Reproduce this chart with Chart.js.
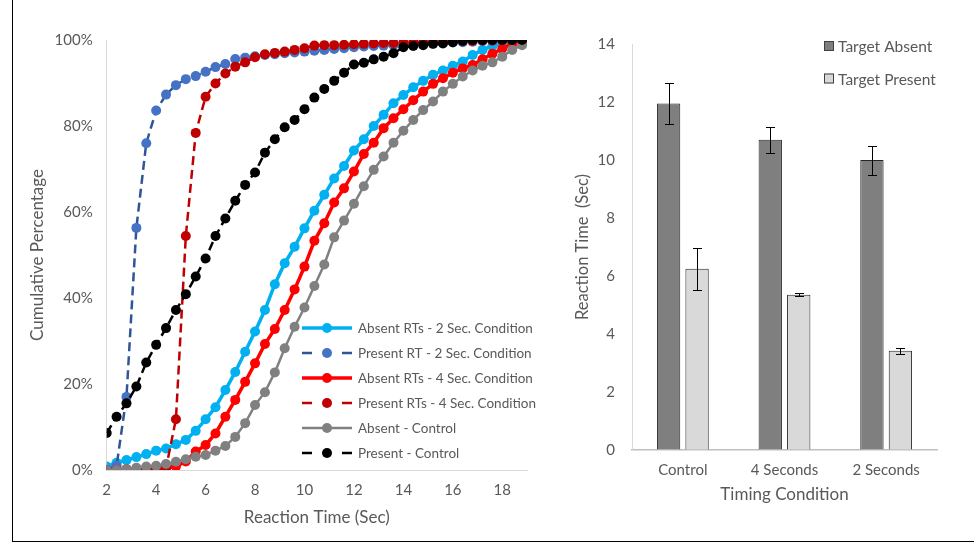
<!DOCTYPE html>
<html>
<head>
<meta charset="utf-8">
<script src="https://cdn.jsdelivr.net/npm/chart.js@4/dist/chart.umd.min.js"></script>
<style>
html, body { margin: 0; padding: 0; background: #fff; }
#page { position: relative; width: 974px; height: 549px; overflow: hidden; }
#frame { position: absolute; left: 12px; top: -2px; width: 970px; height: 543px; border-left: 1px solid #000; border-bottom: 1px solid #000; }
#left { position: absolute; left: 13px; top: 0; }
#right { position: absolute; left: 560px; top: 0; }
</style>
</head>
<body>
<div id="page">
  <div id="frame"></div>
  <canvas id="left" width="544" height="540"></canvas>
  <canvas id="right" width="414" height="540"></canvas>
</div>
<script>
// ---- left chart: cumulative RT distributions ----
const reactionTimes = [2, 2.4, 2.8, 3.2, 3.6, 4, 4.4, 4.8, 5.2, 5.6, 6, 6.4, 6.8, 7.2, 7.6, 8, 8.4, 8.8, 9.2, 9.6,
  10, 10.4, 10.8, 11.2, 11.6, 12, 12.4, 12.8, 13.2, 13.6, 14, 14.4, 14.8, 15.2, 15.6, 16, 16.4, 16.8, 17.2, 17.6, 18, 18.4, 18.8];

const absent2 = [0.8, 1.7, 2.3, 3.0, 3.7, 4.5, 5.0, 6.0, 7.0, 9.1, 11.8, 14.6, 18.6, 22.8, 27.5, 32.2, 37.2, 43.2, 48.1, 51.9,
  56.2, 60.3, 64.0, 67.8, 70.7, 74.3, 76.9, 80.0, 82.6, 85.3, 87.2, 89.0, 90.5, 91.9, 92.9, 94.0, 95.0, 96.5, 97.7, 98.6, 99.3, 99.8, 100];
const present2 = [0, 1, 17, 56.3, 76, 83.6, 87.3, 89.5, 90.9, 91.6, 92.6, 93.7, 94.4, 95.6, 95.9, 96.2, 96.5, 96.7, 96.9, 97.1,
  97.3, 97.5, 97.7, 97.9, 98.1, 98.3, 98.5, 98.6, 98.7, 98.8, 98.9, 99.0, 99.1, 99.2, 99.3, 99.4, 99.5, 99.6, 99.7, 99.8, 99.9, 100, 100];
const absent4 = [0, 0, 0.2, 0.3, 0.3, 0.4, 0.5, 0.8, 2.0, 4.3, 5.8, 8.5, 12.4, 16.3, 20.5, 24.8, 29.3, 32.8, 37.2, 42.0,
  47.3, 53.3, 57.4, 62.2, 65.5, 69.4, 73.5, 76.1, 79.5, 81.8, 83.9, 86.0, 88.0, 89.8, 91.1, 92.4, 93.4, 94.2, 95.5, 96.8, 98.0, 99.0, 99.8];
const present4 = [0, 0, 0, 0, 0, 0, 0.5, 11.8, 54.4, 78.4, 86.8, 89.9, 92.2, 93.8, 94.8, 96.0, 96.7, 97.0, 97.3, 97.7,
  98.1, 98.7, 98.8, 98.8, 98.9, 99.0, 99.1, 99.2, 99.3, 99.3, 99.4, 99.5, 99.5, 99.6, 99.7, 99.7, 99.8, 99.8, 99.9, 99.9, 100, 100, 100];
const absentControl = [0, 0, 0.2, 0.5, 0.8, 1.0, 1.4, 1.9, 2.5, 3.1, 3.5, 4.5, 5.6, 7.7, 10.9, 15.1, 18.1, 22.7, 28.3, 33.3,
  37.8, 42.8, 47.8, 54.1, 58.0, 61.9, 66.0, 69.8, 72.9, 76.1, 78.9, 81.4, 83.7, 85.7, 88.0, 89.8, 91.5, 92.9, 94.0, 94.8, 96.1, 97.7, 98.8];
const presentControl = [8.6, 12.4, 15.5, 19.4, 25.0, 29.1, 33.0, 37.2, 40.9, 45.0, 49.2, 54.4, 58.5, 62.6, 66.3, 69.2, 73.8, 76.9, 79.7, 81.4,
  83.9, 86.6, 88.6, 90.5, 92.4, 94.3, 94.7, 95.5, 96.1, 96.9, 98.3, 98.6, 98.8, 99.1, 99.2, 99.5, 99.8, 100, 100, 100, 100, 100, 100];

const xTicks = [2, 4, 6, 8, 10, 12, 14, 16, 18];
const yTicks = [0, 20, 40, 60, 80, 100];

// ---- right chart: mean RT by timing condition ----
const conditions = ['Control', '4 Seconds', '2 Seconds'];
const targetAbsent = [11.95, 10.7, 10.0];
const targetAbsentErr = [0.72, 0.45, 0.5];
const targetPresent = [6.25, 5.35, 3.42];
const targetPresentErr = [0.72, 0.05, 0.1];

const FONT = 'Lato';
const TEXT = '#595959';

function pts(ys) {
  return reactionTimes.map((x, i) => ({x: x, y: ys[i]}));
}

function lineSeries(label, ys, line, dot, width, dash, order) {
  return {
    label: label,
    data: pts(ys),
    borderColor: line,
    borderWidth: width,
    borderDash: dash,
    pointBackgroundColor: dot,
    pointBorderColor: dot,
    pointBorderWidth: 0,
    pointRadius: 5,
    tension: 0,
    fill: false,
    order: order
  };
}

const lineLegend = {
  id: 'lineLegend',
  afterDraw(chart, args, opts) {
    const ctx = chart.ctx;
    ctx.save();
    ctx.font = opts.size + 'px ' + FONT;
    ctx.textBaseline = 'middle';
    chart.data.datasets.forEach((ds, i) => {
      const y = opts.top + i * opts.rowHeight;
      const x0 = opts.left, x1 = opts.left + opts.lineLength, xm = (x0 + x1) / 2;
      ctx.strokeStyle = ds.borderColor;
      ctx.lineWidth = ds.borderWidth;
      ctx.beginPath();
      if (ds.borderDash.length) {
        ctx.moveTo(x0, y); ctx.lineTo(x0 + 10, y);
        ctx.moveTo(x1 - 10, y); ctx.lineTo(x1, y);
      } else {
        ctx.moveTo(x0, y); ctx.lineTo(x1, y);
      }
      ctx.stroke();
      ctx.fillStyle = ds.pointBackgroundColor;
      ctx.beginPath();
      ctx.arc(xm, y, ds.pointRadius, 0, Math.PI * 2);
      ctx.fill();
      ctx.fillStyle = TEXT;
      ctx.fillText(ds.label, x1 + 6, y + 1);
    });
    ctx.restore();
  }
};

new Chart(document.getElementById('left'), {
  type: 'line',
  data: {
    datasets: [
      lineSeries('Absent RTs - 2 Sec. Condition', absent2, '#00B0F0', '#00B0F0', 3.5, [], 6),
      lineSeries('Present RT - 2 Sec. Condition', present2, '#2F5597', '#4472C4', 2.5, [9, 5], 5),
      lineSeries('Absent RTs - 4 Sec. Condition', absent4, '#FF0000', '#FF0000', 3.5, [], 4),
      lineSeries('Present RTs - 4 Sec. Condition', present4, '#C00000', '#C00000', 2.5, [9, 5], 3),
      lineSeries('Absent - Control', absentControl, '#808080', '#808080', 2.5, [], 2),
      lineSeries('Present - Control', presentControl, '#000000', '#000000', 2.5, [9, 5], 1)
    ]
  },
  options: {
    responsive: false,
    animation: false,
    layout: {padding: {top: 40, right: 30, left: 0, bottom: 0}},
    plugins: {
      legend: {display: false},
      tooltip: {enabled: false},
      lineLegend: {left: 289, top: 328, rowHeight: 25, lineLength: 50, size: 13.5}
    },
    scales: {
      x: {
        type: 'linear',
        min: 2,
        max: 19,
        afterBuildTicks: (s) => { s.ticks = xTicks.map(v => ({value: v})); },
        afterFit: (s) => { s.height = 70; },
        grid: {drawOnChartArea: false, drawTicks: false},
        border: {color: '#D9D9D9', width: 1},
        ticks: {color: TEXT, font: {family: FONT, size: 15}, padding: 11, maxRotation: 0},
        title: {display: true, text: 'Reaction Time (Sec)', color: TEXT, font: {family: FONT, size: 17}, padding: {top: 0, bottom: 12}}
      },
      y: {
        min: 0,
        max: 100,
        afterBuildTicks: (s) => { s.ticks = yTicks.map(v => ({value: v})); },
        afterFit: (s) => { s.width = 93.7; },
        grid: {drawOnChartArea: false, drawTicks: false},
        border: {color: '#D9D9D9', width: 1},
        ticks: {color: TEXT, font: {family: FONT, size: 15}, padding: 14, callback: (v) => v + '%'},
        title: {display: true, text: 'Cumulative Percentage', color: TEXT, font: {family: FONT, size: 17}, padding: {top: 14, bottom: 0}}
      }
    }
  },
  plugins: [lineLegend]
});

const errorBars = {
  id: 'errorBars',
  afterDatasetsDraw(chart, args, opts) {
    const ctx = chart.ctx, ys = chart.scales.y;
    ctx.save();
    ctx.strokeStyle = '#000';
    ctx.lineWidth = 1;
    chart.data.datasets.forEach((ds, i) => {
      chart.getDatasetMeta(i).data.forEach((bar, j) => {
        const v = ds.data[j], e = ds.errors[j];
        const top = Math.round(ys.getPixelForValue(v + e)) + 0.5;
        const bot = Math.round(ys.getPixelForValue(v - e)) + 0.5;
        const x = Math.round(bar.x) + 0.5;
        ctx.beginPath();
        ctx.moveTo(x, top); ctx.lineTo(x, bot);
        ctx.moveTo(x - opts.cap, top); ctx.lineTo(x + opts.cap, top);
        ctx.moveTo(x - opts.cap, bot); ctx.lineTo(x + opts.cap, bot);
        ctx.stroke();
      });
    });
    ctx.restore();
  }
};

const boxLegend = {
  id: 'boxLegend',
  afterDraw(chart, args, opts) {
    const ctx = chart.ctx;
    ctx.save();
    ctx.font = opts.size + 'px ' + FONT;
    ctx.textBaseline = 'middle';
    chart.data.datasets.forEach((ds, i) => {
      const y = opts.top + i * opts.rowHeight;
      ctx.fillStyle = ds.backgroundColor;
      ctx.fillRect(opts.left, y - 5, 10, 10);
      ctx.strokeStyle = '#404040';
      ctx.lineWidth = 1;
      ctx.strokeRect(opts.left + 0.5, y - 4.5, 9, 9);
      ctx.fillStyle = TEXT;
      ctx.fillText(ds.label, opts.left + 14, y + 1);
    });
    ctx.restore();
  }
};

new Chart(document.getElementById('right'), {
  type: 'bar',
  data: {
    labels: conditions,
    datasets: [
      {label: 'Target Absent', data: targetAbsent, errors: targetAbsentErr, backgroundColor: '#7F7F7F',
        borderColor: '#262626', borderWidth: 1, categoryPercentage: 0.56, barPercentage: 0.82},
      {label: 'Target Present', data: targetPresent, errors: targetPresentErr, backgroundColor: '#D9D9D9',
        borderColor: '#262626', borderWidth: 1, categoryPercentage: 0.56, barPercentage: 0.82}
    ]
  },
  options: {
    responsive: false,
    animation: false,
    layout: {padding: {top: 44, right: 37, left: 0, bottom: 0}},
    plugins: {
      legend: {display: false},
      tooltip: {enabled: false},
      errorBars: {cap: 4.5},
      boxLegend: {left: 264, top: 46, rowHeight: 32.5, size: 15.5}
    },
    scales: {
      x: {
        afterFit: (s) => { s.height = 90; },
        grid: {drawOnChartArea: false, drawTicks: false},
        border: {color: '#BFBFBF', width: 1.5},
        ticks: {color: TEXT, font: {family: FONT, size: 15}, padding: 11},
        title: {display: true, text: 'Timing Condition', color: TEXT, font: {family: FONT, size: 17}, padding: {top: 0, bottom: 35}}
      },
      y: {
        min: 0,
        max: 14,
        ticks: {stepSize: 2, color: TEXT, font: {family: FONT, size: 15}, padding: 17},
        afterFit: (s) => { s.width = 72; },
        grid: {drawOnChartArea: false, drawTicks: false},
        border: {color: '#D9D9D9', width: 1},
        title: {display: true, text: 'Reaction Time  (Sec)', color: TEXT, font: {family: FONT, size: 16.5}, padding: {top: 13, bottom: 0}}
      }
    }
  },
  plugins: [errorBars, boxLegend]
});
</script>
</body>
</html>
